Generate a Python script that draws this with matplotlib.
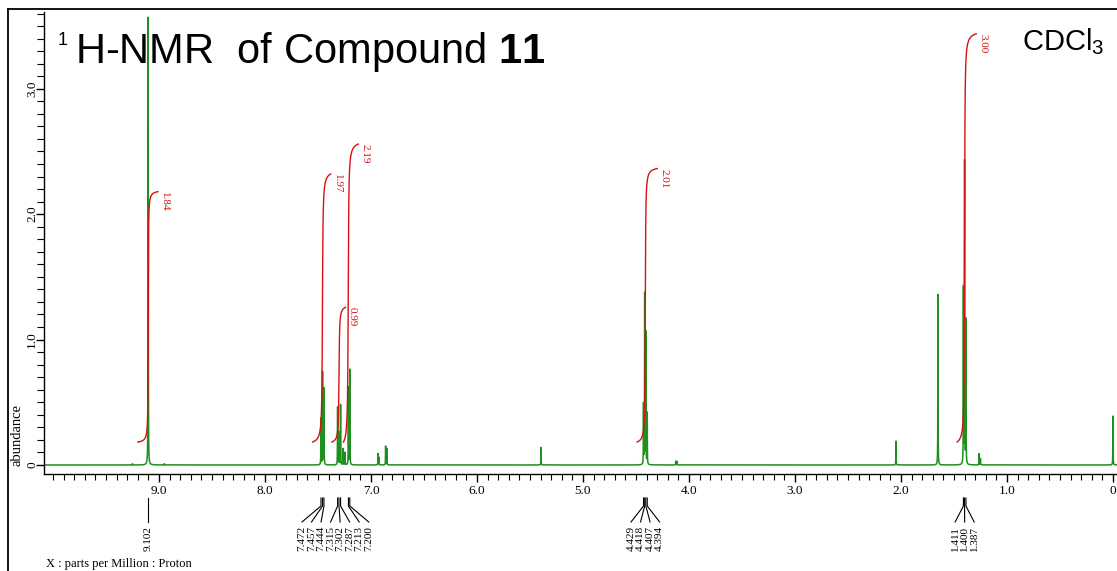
import numpy as np
import matplotlib
matplotlib.use("Agg")
import matplotlib.pyplot as plt
import matplotlib.transforms as mtrans
from matplotlib.lines import Line2D
from matplotlib.ticker import FixedLocator, MultipleLocator, FuncFormatter

plt.rcParams["mathtext.fontset"] = "custom"
plt.rcParams["mathtext.rm"] = "Liberation Sans"
plt.rcParams["mathtext.bf"] = "Liberation Sans:bold"
plt.rcParams["mathtext.it"] = "Liberation Sans:italic"

# ---- spectrum data: peak positions (ppm) and heights (abundance) ----
peak_ppm = [9.25, 9.102, 8.95,
            7.472, 7.457, 7.444, 7.315, 7.302, 7.287, 7.262, 7.245, 7.213, 7.200,
            6.934, 6.925, 6.862, 6.850, 5.396,
            4.429, 4.418, 4.407, 4.394, 4.125, 4.115,
            2.047, 1.651, 1.411, 1.400, 1.387, 1.262, 1.250, 0.000]
peak_height = [0.01, 3.57, 0.01,
               0.37, 0.74, 0.61, 0.46, 0.26, 0.48, 0.13, 0.10, 0.62, 0.76,
               0.09, 0.06, 0.15, 0.13, 0.14,
               0.48, 1.36, 1.05, 0.41, 0.03, 0.03,
               0.19, 1.36, 1.40, 2.41, 1.15, 0.09, 0.05, 0.39]
line_hwhm = 0.0012

# ---- integrals ----
int_values = [1.84, 1.97, 0.99, 2.19, 2.01, 3.00]
int_center = [9.102, 7.458, 7.302, 7.215, 4.412, 1.400]
int_start = [9.20, 7.55, 7.37, 7.26, 4.49, 1.47]
int_end = [9.01, 7.38, 7.24, 7.12, 4.30, 1.29]
int_width = [0.002, 0.004, 0.004, 0.004, 0.003, 0.003]
int_base = 0.183
int_scale = 1.085

# ---- peak pick labels ----
pick_groups = [[9.102],
               [7.472, 7.457, 7.444, 7.315, 7.302, 7.287, 7.213, 7.200],
               [4.429, 4.418, 4.407, 4.394],
               [1.411, 1.400, 1.387]]

x_major = [0, 1, 2, 3, 4, 5, 6, 7, 8, 9]
y_major = [0, 1, 2, 3]

W, H = 1117, 571
fig = plt.figure(figsize=(W / 100, H / 100), dpi=100)
ax = fig.add_axes([44 / W, 1 - 474 / H, (W - 44) / W, (474 - 12) / H])
ax.set_xlim(10.085, -0.038)
ax.set_ylim(-0.072, 3.612)

green = "#1f8f1f"
red = "#d81010"
serif = "Liberation Serif"

# spectrum trace built from the listed lines
x = np.concatenate([np.linspace(-0.05, 10.1, 80000), np.array(peak_ppm)])
x = np.sort(x)
y = np.zeros_like(x)
for p, h in zip(peak_ppm, peak_height):
    y += h / (1.0 + ((x - p) / line_hwhm) ** 2)
ax.plot(x, y, color=green, lw=1.1, zorder=2)

# integral curves
for v, c, s, e, w in zip(int_values, int_center, int_start, int_end, int_width):
    xi = np.linspace(s, e, 600)
    f = np.arctan((c - xi) / w)
    f = (f - f[0]) / (f[-1] - f[0])
    top = int_base + v * int_scale
    ax.plot(xi, int_base + v * int_scale * f, color=red, lw=1.0, zorder=3)
    ax.annotate(f"{v:.2f}", xy=(e, top), xytext=(2, 0), textcoords="offset pixels",
                rotation=270, ha="left", va="top", color=red,
                fontsize=8, family=serif, zorder=4)

# axes styling
for side in ("top", "right"):
    ax.spines[side].set_visible(False)
for side in ("left", "bottom"):
    ax.spines[side].set_linewidth(1.0)

ax.xaxis.set_major_locator(FixedLocator(x_major))
ax.xaxis.set_minor_locator(MultipleLocator(0.1))
ax.xaxis.set_major_formatter(FuncFormatter(lambda v, _: "0" if abs(v) < 1e-9 else f"{v:.1f}"))
ax.yaxis.set_major_locator(FixedLocator(y_major))
ax.yaxis.set_minor_locator(FixedLocator(np.round(np.arange(0.1, 3.65, 0.1), 2)))
ax.yaxis.set_major_formatter(FuncFormatter(lambda v, _: "0" if abs(v) < 1e-9 else f"{v:.1f}"))

ax.tick_params(axis="x", which="major", direction="out", length=6, width=1, pad=2,
               labelsize=9.5)
ax.tick_params(axis="x", which="minor", direction="out", length=4, width=0.8)
ax.tick_params(axis="y", which="major", direction="out", length=6, width=1, pad=-1.8,
               labelsize=9.5, labelrotation=90)
ax.tick_params(axis="y", which="minor", direction="out", length=5, width=0.8)
for lab in ax.get_xticklabels() + ax.get_yticklabels():
    lab.set_family(serif)
for lab in ax.get_yticklabels():
    lab.set_va("center")

fig.text(17 / W, 1 - 435 / H, "abundance", rotation=90, ha="center", va="center",
         fontsize=10.5, family=serif)
fig.text(46 / W, 1 - 564 / H, "X : parts per Million : Proton", ha="left", va="center",
         fontsize=9, family=serif)

# title and solvent
ax.text(58 / W, 1 - 45 / H, "1", transform=fig.transFigure, fontsize=13,
        family="Liberation Sans", ha="left", va="baseline", zorder=1, clip_on=False)
ax.text(75 / W, 1 - 63 / H, r"H-NMR  of Compound $\mathbf{11}$", transform=fig.transFigure,
        fontsize=30, family="Liberation Sans", ha="left", va="baseline", zorder=1,
        clip_on=False)
ax.text(1022 / W, 1 - 50 / H, r"CDCl$_3$", transform=fig.transFigure, fontsize=21,
        family="Liberation Sans", ha="left", va="baseline", zorder=1, clip_on=False)

# peak pick connectors and labels
trans = mtrans.blended_transform_factory(ax.transData, fig.transFigure)
def fy(px):
    return 1 - px / H

pitch = 0.09
for grp in pick_groups:
    n = len(grp)
    centre = float(np.mean(grp))
    for i, p in enumerate(grp):
        lx = centre + ((n - 1) / 2 - i) * pitch
        fig.add_artist(Line2D([p, p, lx], [fy(498), fy(506), fy(522)], transform=trans,
                              color="black", lw=0.8))
        fig.text(lx, fy(526), f"{p:.3f}", transform=trans, rotation=90, ha="center",
                 va="top", fontsize=8, family=serif)

# outer frame
fig.add_artist(Line2D([7.5 / W, 7.5 / W], [0, fy(9)], transform=fig.transFigure,
                      color="black", lw=1.3))
fig.add_artist(Line2D([7.5 / W, 1], [fy(9), fy(9)], transform=fig.transFigure,
                      color="black", lw=1.3))

fig.savefig("out.png", dpi=100)
